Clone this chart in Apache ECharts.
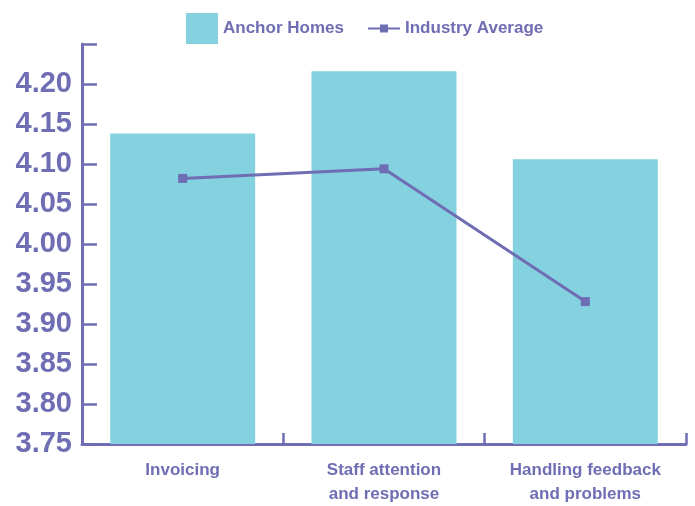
<!DOCTYPE html>
<html>
<head>
<meta charset="utf-8">
<script src="https://cdn.jsdelivr.net/npm/echarts@6/dist/echarts.min.js"></script>
<style>
  html, body { margin: 0; padding: 0; background: #ffffff; }
  #chart { width: 695px; height: 506px; }
</style>
</head>
<body>
<div id="chart"></div>
<script>
// Satisfaction scores by service area
const categories = ['Invoicing', 'Staff attention\nand response', 'Handling feedback\nand problems'];
const anchorHomes = [4.138, 4.216, 4.106];
const industryAverage = [4.082, 4.094, 3.928];
const yTicks = { min: 3.75, max: 4.25, step: 0.05 };

const purple = '#6F6DB3';
const teal = '#84D1E0';
const font = '"Liberation Sans", sans-serif';

const chart = echarts.init(document.getElementById('chart'), null, { renderer: 'canvas' });

const legendText = { color: purple, fontFamily: font, fontWeight: 'bold', fontSize: 17 };

chart.setOption({
  animation: false,
  backgroundColor: '#ffffff',
  legend: [
    {
      data: [{ name: 'Anchor Homes', icon: 'rect' }],
      left: 186,
      top: 13,
      padding: 0,
      itemWidth: 32,
      itemHeight: 31,
      textStyle: legendText
    },
    {
      data: ['Industry Average'],
      left: 367,
      top: 20,
      padding: 0,
      itemWidth: 32,
      itemHeight: 10,
      textStyle: legendText
    }
  ],
  grid: { left: 82, right: 9, top: 44, bottom: 60, containLabel: false },
  xAxis: {
    type: 'category',
    data: categories,
    boundaryGap: true,
    axisLine: { lineStyle: { color: purple, width: 3 } },
    axisTick: { show: true, inside: true, length: 11, lineStyle: { color: purple, width: 2.5 } },
    axisLabel: {
      color: purple, fontFamily: font, fontWeight: 'bold', fontSize: 17,
      lineHeight: 24, margin: 14, interval: 0
    }
  },
  yAxis: {
    type: 'value',
    min: yTicks.min,
    max: yTicks.max,
    interval: yTicks.step,
    splitLine: { show: false },
    axisLine: { show: true, lineStyle: { color: purple, width: 3 } },
    axisTick: { show: true, inside: true, length: 15, lineStyle: { color: purple, width: 2.5 } },
    axisLabel: {
      color: purple, fontFamily: font, fontWeight: 'bold', fontSize: 29,
      margin: 10,
      formatter: function (v) {
        if (Math.abs(v - yTicks.max) < 1e-9) return '';
        return v.toFixed(2);
      }
    }
  },
  series: [
    {
      name: 'Anchor Homes',
      type: 'bar',
      data: anchorHomes,
      barWidth: '72%',
      itemStyle: { color: teal }
    },
    {
      name: 'Industry Average',
      type: 'line',
      data: industryAverage,
      symbol: 'rect',
      symbolSize: 9,
      lineStyle: { color: purple, width: 3 },
      itemStyle: { color: purple }
    }
  ]
});
</script>
</body>
</html>
